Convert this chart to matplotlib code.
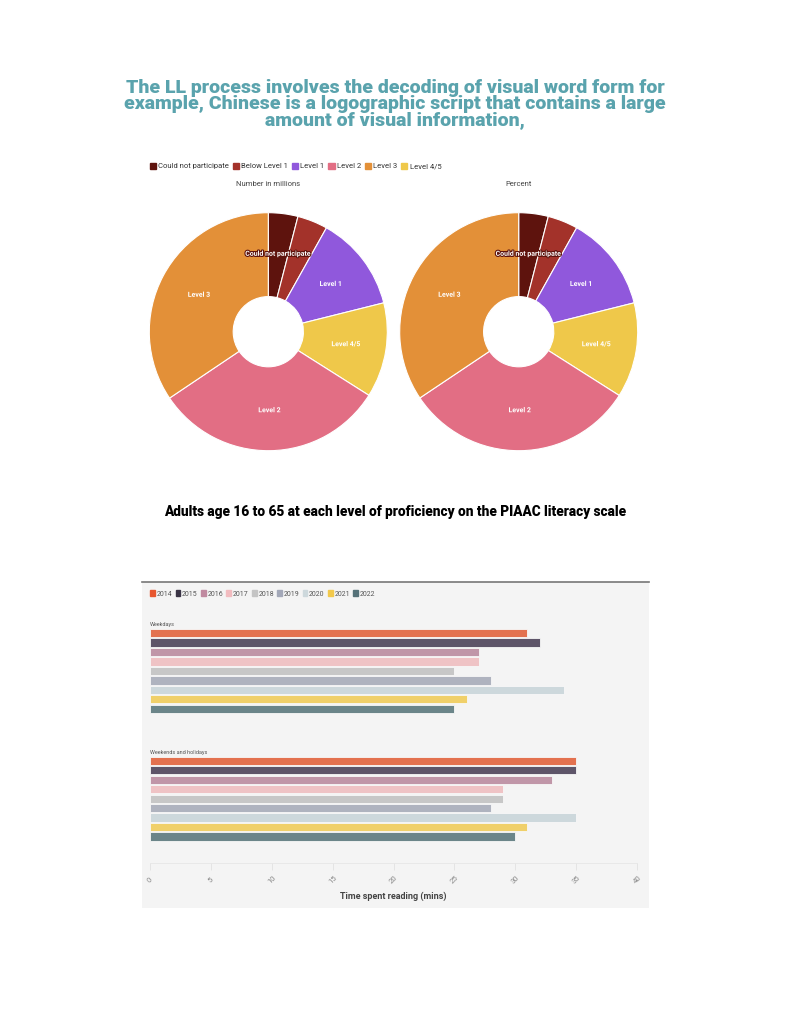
import matplotlib.pyplot as plt
import matplotlib.patheffects as pe
from matplotlib.patches import Rectangle

plt.rcParams['font.family'] = ['Roboto', 'DejaVu Sans']

# pie data (slice order as drawn, clockwise from 12 o'clock)
levels = ['Could not participate', 'Below Level 1', 'Level 1', 'Level 4/5', 'Level 2', 'Level 3']
millions = [8.1, 8.3, 26.2, 26.0, 63.8, 69.5]
percent = [4.0, 4.1, 13.0, 12.9, 31.6, 34.4]
level_colors = ['#5e130d', '#a3322a', '#9058dc', '#efc84a', '#e26e84', '#e39038']
legend_order = ['Could not participate', 'Below Level 1', 'Level 1', 'Level 2', 'Level 3', 'Level 4/5']

# bar data
years = ['2014', '2015', '2016', '2017', '2018', '2019', '2020', '2021', '2022']
weekdays = [31, 32, 27, 27, 25, 28, 34, 26, 25]
weekends = [35, 35, 33, 29, 29, 28, 35, 31, 30]
year_colors = ['#e3714f', '#5e5569', '#c096a8', '#efc3c5', '#c7c7c7',
               '#afb3bf', '#cdd8dc', '#f0d06a', '#6b8589']
legend_colors = ['#e8572f', '#3a3445', '#c08aa0', '#f2bcc0', '#c4c4c4',
                 '#a3a8b8', '#cdd8dc', '#f2c94c', '#557178']

W, H = 790, 1023
fig = plt.figure(figsize=(W / 100, H / 100), dpi=100)


def fx(px):
    return px / W


def fy(py):
    return 1 - py / H


fig.text(0.5, fy(104), 'The LL process involves the decoding of visual word form for\n'
         'example, Chinese is a logographic script that contains a large\n'
         'amount of visual information,', ha='center', va='center',
         fontsize=14, fontweight='heavy', color='#5aa3ad', linespacing=0.88)

# legend for pies
handles = [Rectangle((0, 0), 1, 1, color=level_colors[levels.index(l)]) for l in legend_order]
fig.legend(handles, legend_order, loc='center left', bbox_to_anchor=(fx(143), fy(166)),
           ncol=6, frameon=False, fontsize=5.5, handlelength=0.8, handleheight=0.9,
           handletextpad=0.3, columnspacing=0.5, labelcolor='#333333')

R = 119
for cx, vals, title in [(268.3, millions, 'Number in millions'), (518.7, percent, 'Percent')]:
    ax = fig.add_axes([fx(cx - R), fy(331.7 + R), 2 * R / W, 2 * R / H])
    wedges, texts = ax.pie(vals, labels=levels, colors=level_colors, startangle=90,
                           counterclock=False, radius=1, labeldistance=0.66,
                           wedgeprops=dict(width=0.705, edgecolor='white', linewidth=0.8),
                           textprops=dict(fontsize=5, color='white', fontweight='bold'))
    for t, c in zip(texts, level_colors):
        t.set_ha('center')
        t.set_va('center')
        t.set_path_effects([pe.withStroke(linewidth=1.6, foreground=c)])
    texts[1].set_visible(False)
    ax.set_xlim(-1, 1)
    ax.set_ylim(-1, 1)
    fig.text(fx(cx), fy(184), title, ha='center', va='center', fontsize=5.5, color='#444444')

fig.text(0.5, fy(512), 'Adults age 16 to 65 at each level of proficiency on the PIAAC literacy scale',
         ha='center', va='center', fontsize=9.8, fontweight='heavy', color='black')

# bar panel background
pax = fig.add_axes([fx(142), fy(908), (649 - 142) / W, (908 - 582) / H], zorder=-1)
pax.set_facecolor('#f4f4f4')
pax.set_xticks([])
pax.set_yticks([])
for k, s in pax.spines.items():
    s.set_visible(k == 'top')
pax.spines['top'].set_color('#777777')
pax.spines['top'].set_linewidth(1.2)

bax = fig.add_axes([fx(150), fy(863), (637 - 150) / W, (863 - 600) / H])
bax.set_facecolor('none')
gap = 13.5
for g, (vals, name) in enumerate([(weekdays, 'Weekdays'), (weekends, 'Weekends and holidays')]):
    ys = [g * gap + i for i in range(len(years))]
    bax.barh(ys, vals, height=0.88, color=year_colors, edgecolor='#f8f8f8', linewidth=0.6)
    bax.text(0, g * gap - 0.6, name, fontsize=4, color='#555555', va='bottom', ha='left')
bax.set_xlim(0, 40)
bax.set_ylim(24.3, -3.5)
bax.set_yticks([])
for k, s in bax.spines.items():
    s.set_visible(k == 'bottom')
bax.spines['bottom'].set_color('#e6e6e6')
bax.spines['bottom'].set_linewidth(0.6)
bax.set_xticks(range(0, 41, 5))
bax.tick_params(axis='x', length=5, width=0.6, color='#e2e2e2', labelsize=5.5,
                labelcolor='#888888', pad=7)
for lab in bax.get_xticklabels():
    lab.set_rotation(45)
    lab.set_ha('center')
    lab.set_va('center')
    lab.set_rotation_mode('anchor')
bax.set_xlabel('Time spent reading (mins)', fontsize=6.5, fontweight='bold', color='#444444',
               labelpad=5)

yh = [Rectangle((0, 0), 1, 1, color=c) for c in legend_colors]
fig.legend(yh, years, loc='center left', bbox_to_anchor=(fx(144), fy(594)), ncol=9,
           frameon=False, fontsize=5, handlelength=0.7, handleheight=0.9,
           handletextpad=0.25, columnspacing=0.45, labelcolor='#555555')

fig.savefig('out.png', dpi=100)
